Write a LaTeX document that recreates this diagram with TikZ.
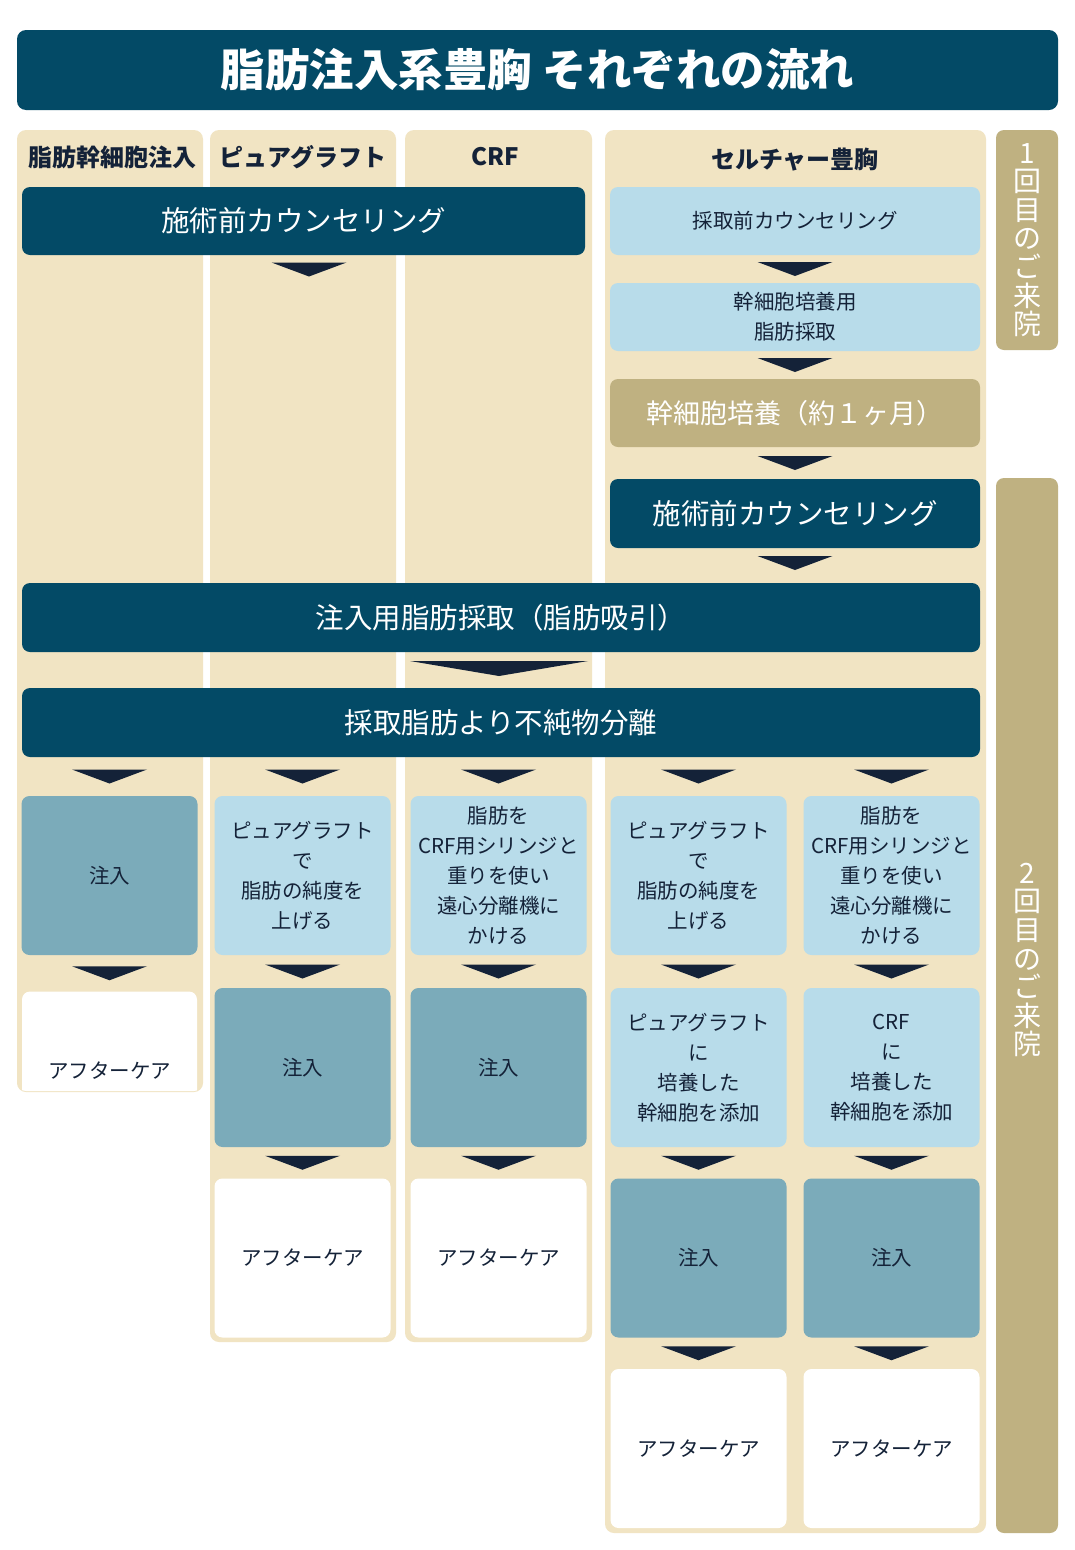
\documentclass[tikz,border=0pt]{standalone}
\usepackage{fontspec}
\setmainfont{Noto Sans CJK JP}
\usetikzlibrary{calc}
\definecolor{navy}{HTML}{034A66}
\definecolor{beige}{HTML}{F1E4C3}
\definecolor{tan}{HTML}{BFB181}
\definecolor{lblue}{HTML}{B8DCEA}
\definecolor{mteal}{HTML}{7BABBA}
\definecolor{ink}{HTML}{142238}
\tikzset{
  colbox/.style={fill=beige, rounded corners=9pt},
  darkbox/.style={fill=navy, rounded corners=8pt, inner sep=0pt, text=white, font=\fontsize{28.5}{32}\selectfont},
  lightbox/.style={fill=lblue, rounded corners=8pt, inner sep=0pt, text=ink, align=center, font=\fontsize{20.5}{30}\selectfont},
  tanbox/.style={fill=tan, rounded corners=8pt, inner sep=0pt, text=white, font=\fontsize{27}{32}\selectfont},
  injbox/.style={fill=mteal, rounded corners=8pt, inner sep=0pt, text=ink, font=\fontsize{20.5}{30}\selectfont},
  carebox/.style={fill=white, rounded corners=8pt, inner sep=0pt, text=ink, font=\fontsize{20.5}{30}\selectfont},
  rowbox/.style={minimum width=176pt, minimum height=159pt},
  head/.style={text=ink, font=\bfseries\fontsize{24}{26}\selectfont},
  sidebox/.style={fill=tan, rounded corners=8pt, inner sep=0pt, minimum width=62pt},
  sidetext/.style={text=white, align=center, font=\fontsize{28}{28.6}\selectfont},
}
% triangle pointing down between node #1 (above) and node #2 (below), width #3
\newcommand{\flowtri}[3]{%
  \fill[ink] ($(#2.north)!0.5!(#2.north |- #1.south)+(-#3/2,-7)$) -- ++(#3,0)
     -- ($(#2.north)!0.5!(#2.north |- #1.south)+(0,7)$) -- cycle;}
\newcommand{\freetri}[3]{%
  \fill[ink] ($(#1)+(-#2/2,-#3/2)$) -- ++(#2,0) -- ($(#1)+(0,#3/2)$) -- cycle;}
\begin{document}
\begin{tikzpicture}[x=1pt,y=-1pt]
\useasboundingbox (0,0) rectangle (1075,1550);
\fill[white] (0,0) rectangle (1075,1550);

% title
\node[fill=navy, rounded corners=9pt, minimum width=1041pt, minimum height=80pt, inner sep=0pt,
      text=white, font=\bfseries\fontsize{44.5}{48}\selectfont] (title) at (537.5,70) {脂肪注入系豊胸 それぞれの流れ};

% columns
\node[colbox, minimum width=186pt, minimum height=962pt, inner sep=0pt] (col1) at (110,611) {};
\node[colbox, minimum width=186pt, minimum height=1212pt, inner sep=0pt] (col2) at (303,736) {};
\node[colbox, minimum width=187pt, minimum height=1212pt, inner sep=0pt] (col3) at (498.5,736) {};
\node[colbox, minimum width=381pt, minimum height=1403pt, inner sep=0pt] (col4) at (795.5,831.5) {};

% side labels
\node[sidebox, minimum height=220pt, sidetext] (side1) at (1027,240) {1\\回\\目\\の\\ご\\来\\院};
\node[sidebox, minimum height=1055pt] (side2) at (1027,1005.5) {};
\node[sidetext] (side2t) at (1027,960) {2\\回\\目\\の\\ご\\来\\院};

% headers
\node[head] (h1) at (112,157) {脂肪幹細胞注入};
\node[head] (h2) at (303,157) {ピュアグラフト};
\node[head] (h3) at (495,157) {CRF};
\node[head] (h4) at (795,160) {セルチャー豊胸};

% top stage
\node[darkbox, minimum width=563pt, minimum height=68pt] (pre1) at (303.5,221) {施術前カウンセリング};
\coordinate (pre1arr) at (309,269.5);
\freetri{pre1arr}{75}{14}

\node[lightbox, minimum width=370pt, minimum height=68pt] (c4a) at (795,221) {採取前カウンセリング};
\node[lightbox, minimum width=370pt, minimum height=68pt] (c4b) at (795,317) {幹細胞培養用\\脂肪採取};
\node[tanbox, minimum width=370pt, minimum height=68pt] (c4c) at (795,413) {幹細胞培養（約１ヶ月）};
\node[darkbox, minimum width=370pt, minimum height=69pt] (pre2) at (795,513.5) {施術前カウンセリング};
\flowtri{c4a}{c4b}{75}
\flowtri{c4b}{c4c}{75}
\flowtri{c4c}{pre2}{75}
\coordinate (pre2arr) at (795,563);
\freetri{pre2arr}{75}{14}

% wide stages
\node[darkbox, minimum width=958pt, minimum height=69pt] (suck) at (501,617.5) {注入用脂肪採取（脂肪吸引）};
\node[darkbox, minimum width=958pt, minimum height=69pt] (sep) at (501,722.5) {採取脂肪より不純物分離};
\coordinate (sucarr) at (499,668.5);
\freetri{sucarr}{178}{15}

% row 1
\node[injbox, rowbox] (r1a) at (109.5,875.5) {注入};
\node[lightbox, rowbox] (r1b) at (302.5,875.5) {ピュアグラフト\\で\\脂肪の純度を\\上げる};
\node[lightbox, rowbox] (r1c) at (498.5,875.5) {脂肪を\\CRF用シリンジと\\重りを使い\\遠心分離機に\\かける};
\node[lightbox, rowbox] (r1d) at (698.5,875.5) {ピュアグラフト\\で\\脂肪の純度を\\上げる};
\node[lightbox, rowbox] (r1e) at (891.5,875.5) {脂肪を\\CRF用シリンジと\\重りを使い\\遠心分離機に\\かける};
\foreach \n in {r1a,r1b,r1c,r1d,r1e}{\flowtri{sep}{\n}{75}}

% row 2
\begin{scope}
\clip[rounded corners=9pt] (17,130) rectangle (203,1091);
\node[carebox, rowbox, minimum width=175pt] (r2a) at (109.5,1071) {アフターケア};
\end{scope}
\node[injbox, rowbox] (r2b) at (302.5,1067.5) {注入};
\node[injbox, rowbox] (r2c) at (498.5,1067.5) {注入};
\node[lightbox, rowbox] (r2d) at (698.5,1067.5) {ピュアグラフト\\に\\培養した\\幹細胞を添加};
\node[lightbox, rowbox] (r2e) at (891.5,1067.5) {CRF\\に\\培養した\\幹細胞を添加};
\flowtri{r1a}{r2a}{75}
\flowtri{r1b}{r2b}{75}
\flowtri{r1c}{r2c}{75}
\flowtri{r1d}{r2d}{75}
\flowtri{r1e}{r2e}{75}

% row 3
\node[carebox, rowbox] (r3b) at (302.5,1258) {アフターケア};
\node[carebox, rowbox] (r3c) at (498.5,1258) {アフターケア};
\node[injbox, rowbox] (r3d) at (698.5,1258) {注入};
\node[injbox, rowbox] (r3e) at (891.5,1258) {注入};
\flowtri{r2b}{r3b}{75}
\flowtri{r2c}{r3c}{75}
\flowtri{r2d}{r3d}{75}
\flowtri{r2e}{r3e}{75}

% row 4
\node[carebox, rowbox] (r4d) at (698.5,1448.5) {アフターケア};
\node[carebox, rowbox] (r4e) at (891.5,1448.5) {アフターケア};
\flowtri{r3d}{r4d}{75}
\flowtri{r3e}{r4e}{75}
\end{tikzpicture}
\end{document}
